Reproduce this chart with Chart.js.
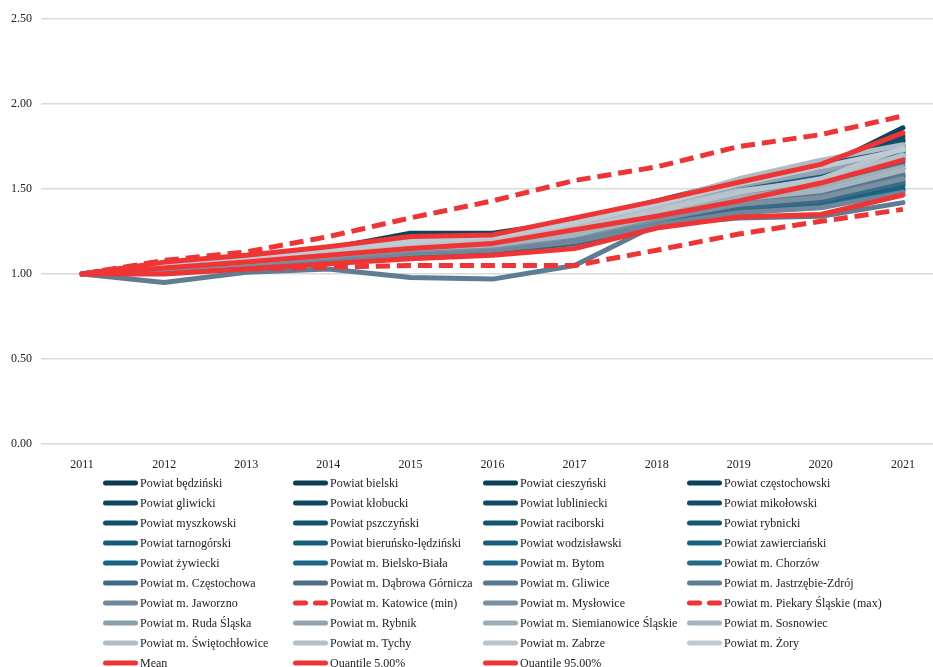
<!DOCTYPE html>
<html><head><meta charset="utf-8">
<script src="https://cdn.jsdelivr.net/npm/chart.js@4"></script>
<style>
html,body{margin:0;padding:0;background:#fff;overflow:hidden;width:933px;height:667px}
#wrap{position:absolute;left:0;top:0;width:944px;height:470px}
#legend{position:absolute;left:0;top:0;width:933px;height:667px;font-family:"Liberation Serif","Times New Roman",serif;font-size:12px;color:#222}
.item{position:absolute;height:20px;line-height:20px;white-space:nowrap}
.item svg{position:absolute;left:0;top:6px}
.item span{position:absolute;left:37px;top:0}
</style></head>
<body>
<div id="wrap"><canvas id="c"></canvas></div>
<div id="legend"></div>
<script>
const years = ['2011','2012','2013','2014','2015','2016','2017','2018','2019','2020','2021'];
const yTicks = [0, 0.5, 1.0, 1.5, 2.0, 2.5];

const seriesNames = [
 'Powiat będziński','Powiat bielski','Powiat cieszyński','Powiat częstochowski',
 'Powiat gliwicki','Powiat kłobucki','Powiat lubliniecki','Powiat mikołowski',
 'Powiat myszkowski','Powiat pszczyński','Powiat raciborski','Powiat rybnicki',
 'Powiat tarnogórski','Powiat bieruńsko-lędziński','Powiat wodzisławski','Powiat zawierciański',
 'Powiat żywiecki','Powiat m. Bielsko-Biała','Powiat m. Bytom','Powiat m. Chorzów',
 'Powiat m. Częstochowa','Powiat m. Dąbrowa Górnicza','Powiat m. Gliwice','Powiat m. Jastrzębie-Zdrój',
 'Powiat m. Jaworzno','Powiat m. Katowice (min)','Powiat m. Mysłowice','Powiat m. Piekary Śląskie (max)',
 'Powiat m. Ruda Śląska','Powiat m. Rybnik','Powiat m. Siemianowice Śląskie','Powiat m. Sosnowiec',
 'Powiat m. Świętochłowice','Powiat m. Tychy','Powiat m. Zabrze','Powiat m. Żory',
 'Mean','Quantile 5.00%','Quantile 95.00%'
];

const bedzinski       = [1,1.04,1.08,1.12,1.16,1.18,1.25,1.34,1.45,1.50,1.62];
const bielski         = [1,1.06,1.10,1.15,1.20,1.21,1.30,1.41,1.52,1.60,1.79];
const cieszynski      = [1,1.05,1.09,1.14,1.19,1.21,1.29,1.40,1.51,1.58,1.75];
const czestochowski   = [1,1.04,1.08,1.12,1.16,1.18,1.24,1.34,1.42,1.45,1.55];
const gliwicki        = [1,1.06,1.10,1.15,1.24,1.24,1.31,1.42,1.53,1.62,1.86];
const klobucki        = [1,1.03,1.07,1.11,1.15,1.17,1.23,1.32,1.40,1.43,1.53];
const lubliniecki     = [1,1.04,1.08,1.12,1.16,1.19,1.26,1.36,1.46,1.53,1.70];
const mikolowski      = [1,1.06,1.10,1.14,1.19,1.21,1.30,1.41,1.52,1.61,1.81];
const myszkowski      = [1,1.03,1.06,1.10,1.13,1.15,1.20,1.30,1.37,1.40,1.50];
const pszczynski      = [1,1.05,1.10,1.15,1.20,1.22,1.31,1.43,1.55,1.62,1.78];
const raciborski      = [1,1.04,1.07,1.11,1.14,1.17,1.23,1.32,1.42,1.47,1.57];
const rybnicki        = [1,1.05,1.09,1.13,1.18,1.20,1.28,1.39,1.50,1.57,1.73];
const tarnogorski     = [1,1.04,1.08,1.12,1.16,1.19,1.26,1.36,1.47,1.55,1.71];
const bierunski       = [1,1.05,1.09,1.14,1.19,1.21,1.29,1.40,1.51,1.59,1.76];
const wodzislawski    = [1,1.04,1.08,1.12,1.16,1.18,1.25,1.35,1.45,1.52,1.66];
const zawiercianski   = [1,1.03,1.06,1.10,1.13,1.16,1.21,1.31,1.38,1.42,1.52];
const zywiecki        = [1,1.04,1.08,1.13,1.17,1.19,1.27,1.38,1.48,1.56,1.72];
const bielskoBiala    = [1,1.05,1.09,1.13,1.18,1.20,1.27,1.37,1.47,1.53,1.68];
const bytom           = [1,1.02,1.05,1.08,1.11,1.13,1.18,1.28,1.36,1.40,1.49];
const chorzow         = [1,1.03,1.07,1.10,1.14,1.16,1.22,1.32,1.41,1.46,1.58];
const czestochowa     = [1,1.03,1.06,1.10,1.13,1.15,1.21,1.30,1.39,1.43,1.54];
const dabrowa         = [1,1.04,1.08,1.12,1.16,1.18,1.25,1.34,1.44,1.50,1.64];
const gliwice         = [1,1.04,1.07,1.11,1.15,1.17,1.23,1.33,1.42,1.47,1.59];
const jastrzebie      = [1,0.95,1.01,1.03,0.98,0.97,1.05,1.29,1.33,1.34,1.42];
const jaworzno        = [1,1.02,1.05,1.08,1.12,1.14,1.19,1.29,1.36,1.39,1.48];
const katowiceMin     = [1,1.01,1.03,1.04,1.05,1.05,1.05,1.14,1.235,1.31,1.38];
const myslowice       = [1,1.03,1.06,1.10,1.14,1.16,1.22,1.32,1.41,1.45,1.56];
const piekaryMax      = [1,1.08,1.13,1.22,1.33,1.43,1.55,1.63,1.75,1.82,1.93];
const rudaSlaska      = [1,1.04,1.08,1.12,1.17,1.19,1.26,1.36,1.47,1.54,1.69];
const rybnik          = [1,1.05,1.09,1.14,1.19,1.21,1.28,1.40,1.52,1.60,1.74];
const siemianowice    = [1,1.04,1.08,1.12,1.16,1.18,1.24,1.35,1.45,1.51,1.63];
const sosnowiec       = [1,1.04,1.07,1.11,1.15,1.17,1.23,1.34,1.44,1.49,1.61];
const swietochlowice  = [1,1.05,1.10,1.15,1.20,1.22,1.30,1.42,1.56,1.67,1.76];
const tychy           = [1,1.05,1.09,1.13,1.18,1.20,1.27,1.38,1.49,1.55,1.70];
const zabrze          = [1,1.04,1.08,1.12,1.17,1.19,1.26,1.37,1.48,1.56,1.74];
const zory            = [1,1.05,1.09,1.14,1.19,1.22,1.30,1.41,1.53,1.63,1.73];
const mean            = [1,1.035,1.07,1.11,1.15,1.18,1.26,1.34,1.43,1.535,1.67];
const quantile5       = [1,1.00,1.03,1.06,1.09,1.11,1.15,1.27,1.335,1.35,1.465];
const quantile95      = [1,1.07,1.11,1.16,1.22,1.23,1.33,1.43,1.54,1.645,1.83];

const seriesValues = [
 bedzinski,bielski,cieszynski,czestochowski,gliwicki,klobucki,lubliniecki,mikolowski,
 myszkowski,pszczynski,raciborski,rybnicki,tarnogorski,bierunski,wodzislawski,zawiercianski,
 zywiecki,bielskoBiala,bytom,chorzow,czestochowa,dabrowa,gliwice,jastrzebie,
 jaworzno,katowiceMin,myslowice,piekaryMax,rudaSlaska,rybnik,siemianowice,sosnowiec,
 swietochlowice,tychy,zabrze,zory,mean,quantile5,quantile95
];

// styles
const RED = '#ee3434';
const colors = [
 '#0b3a52','#0c3d55','#0d4058','#0d425a','#0e455e','#0e4761','#0f4a64','#104c67',
 '#114f6a','#12526d','#135570','#145873','#155a76','#165d79','#175f7c','#18627f',
 '#196482','#1b6685','#1d6886','#226a88','#3d6a87','#4e7089','#58788f','#5e7d93',
 '#6f8799',RED,'#7a90a1',RED,'#8b9eab','#92a4b1','#9badb9','#a5b4bf',
 '#afbcc6','#b3c0c9','#b9c5cd','#bfcad2',RED,RED,RED
];
const dashed = new Set([25,27]);

const N = seriesNames.length;
const datasets = seriesNames.map((name,i)=>({
  label: name,
  data: seriesValues[i],
  borderColor: colors[i],
  backgroundColor: colors[i],
  borderWidth: 5,
  borderDash: dashed.has(i) ? [14,7] : [],
  borderCapStyle: dashed.has(i) ? 'butt' : 'round',
  borderJoinStyle: 'round',
  pointRadius: 0,
  tension: 0,
  fill: false,
  order: N - i
}));

const FONT = '"Liberation Serif","Times New Roman",serif';
Chart.defaults.font.family = FONT;

new Chart(document.getElementById('c'), {
  type: 'line',
  data: { labels: years, datasets },
  options: {
    responsive: true,
    maintainAspectRatio: false,
    animation: false,
    layout: { padding: { top: 19, right: 0, left: 0, bottom: 0 } },
    plugins: { legend: { display: false }, tooltip: { enabled: false } },
    scales: {
      x: {
        offset: true,
        grid: { display: false },
        border: { display: false },
        ticks: { color: '#222', font: { size: 12, family: FONT }, padding: 6, maxRotation: 0 },
        afterFit(s){ s.height = 26; }
      },
      y: {
        min: 0, max: 2.5,
        afterBuildTicks(s){ s.ticks = yTicks.map(v=>({value:v})); },
        grid: { color: '#d9d9d9', lineWidth: 1.5, drawTicks: false },
        border: { display: false },
        ticks: { color: '#222', font: { size: 12, family: FONT }, padding: 9, callback: v => Number(v).toFixed(2) },
        afterFit(s){ s.width = 41; }
      }
    }
  }
});

// HTML legend, 4 columns
const colX = [103, 293, 483, 687];
const leg = document.getElementById('legend');
datasets.forEach((d,i)=>{
  const r = Math.floor(i/4), c = i%4;
  const el = document.createElement('div');
  el.className = 'item';
  el.style.left = colX[c] + 'px';
  el.style.top = (472.7 + r*20) + 'px';
  const dash = dashed.has(i) ? 'stroke-dasharray="10 10"' : '';
  el.innerHTML = '<svg width="36" height="8"><line x1="2.5" y1="4" x2="32.5" y2="4" stroke="'+d.borderColor+'" stroke-width="5" stroke-linecap="round" '+dash+'/></svg><span>'+d.label+'</span>';
  leg.appendChild(el);
});
</script>
</body></html>
